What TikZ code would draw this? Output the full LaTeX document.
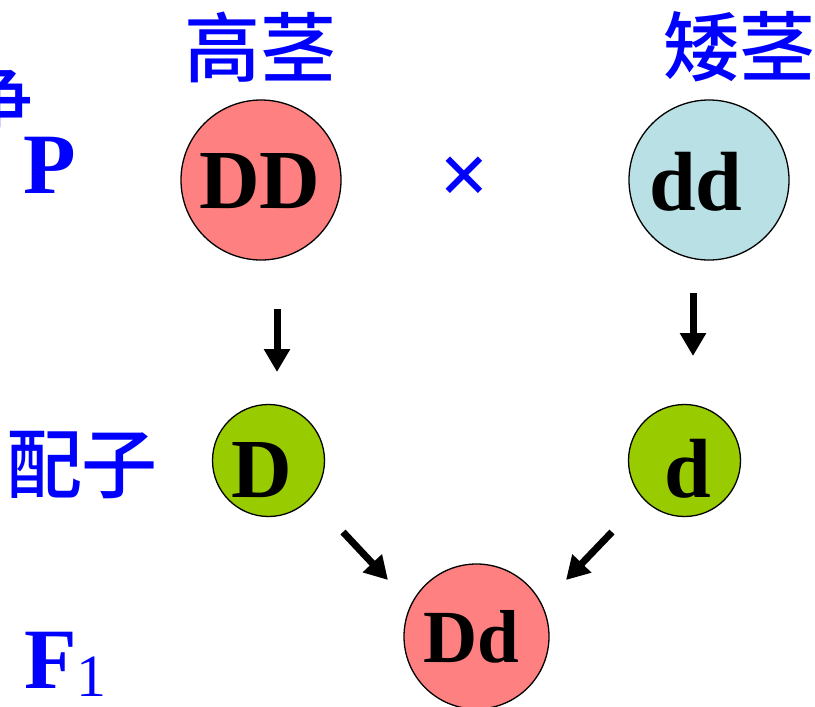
\documentclass[tikz,border=0pt]{standalone}
\usepackage{fontspec}
\setmainfont{Liberation Serif}
\newfontfamily\cjk{Noto Sans CJK SC Medium}
\usetikzlibrary{arrows.meta}
\definecolor{pinkc}{RGB}{255,128,128}
\definecolor{bluec}{RGB}{185,224,228}
\definecolor{greenc}{RGB}{153,204,0}
\definecolor{txtblue}{RGB}{0,0,255}
\begin{document}
\begin{tikzpicture}[x=1pt,y=-1pt,
  gene/.style={circle,draw=black,line width=1.3pt,inner sep=0pt},
  big/.style={gene,minimum size=160pt},
  small/.style={gene,minimum size=112pt},
  mid/.style={gene,minimum size=145pt},
  gtext/.style={inner sep=0pt,anchor=base,font=\bfseries\fontsize{84}{90}\selectfont},
  cjklab/.style={inner sep=0pt,text=txtblue,font=\cjk\fontsize{76}{80}\selectfont},
  lab/.style={inner sep=0pt,text=txtblue,font=\bfseries\fontsize{86}{90}\selectfont},
  arr/.style={line width=7pt,-{Triangle[width=25pt,length=23pt]}}]
\useasboundingbox (0,0) rectangle (815,707);
\clip (0,0) rectangle (815,707);
\fill[white] (0,0) rectangle (815,707);
% labels
\begin{scope}
\clip (0,60) rectangle (29,150);
\node[cjklab] (cut) at (-2,100) {争};
\end{scope}
\node[lab,anchor=base] (P) at (49.5,193) {P};
\node[cjklab] (gao) at (260,47) {高茎};
\node[cjklab] (ai) at (739,47) {矮茎};
\node[cjklab] (pz) at (82,465) {配子};
\node[lab,anchor=base west] (F) at (24,688) {F\raisebox{-8pt}{\mdseries\fontsize{60}{64}\selectfont 1}};
\node[inner sep=0pt,text=txtblue,font=\bfseries\fontsize{88}{90}\selectfont] (x) at (465,181) {×};
% circles
\node[big,fill=pinkc] (DD) at (261,180) {};
\node[big,fill=bluec] (dd) at (709,180) {};
\node[small,fill=greenc] (D) at (268.5,460.5) {};
\node[small,fill=greenc] (d) at (684.5,460.5) {};
\node[mid,fill=pinkc] (Dd) at (476.5,636.5) {};
\node[gtext] (tDD) at (260,208) {DD};
\node[gtext] (tdd) at (696,210) {dd};
\node[gtext] (tD) at (261.5,497) {D};
\node[gtext] (td) at (688,497) {d};
\node[gtext,font=\bfseries\fontsize{75}{80}\selectfont] (tDd) at (471.5,662) {Dd};
% arrows
\coordinate (a1s) at (277,309); \coordinate (a1e) at (277,372);
\coordinate (a2s) at (693,293); \coordinate (a2e) at (693,356);
\coordinate (a3s) at (343,532); \coordinate (a3e) at (388,580);
\coordinate (a4s) at (612,532); \coordinate (a4e) at (566,580);
\draw[arr] (a1s) -- (a1e);
\draw[arr] (a2s) -- (a2e);
\draw[arr] (a3s) -- (a3e);
\draw[arr] (a4s) -- (a4e);
\end{tikzpicture}
\end{document}
